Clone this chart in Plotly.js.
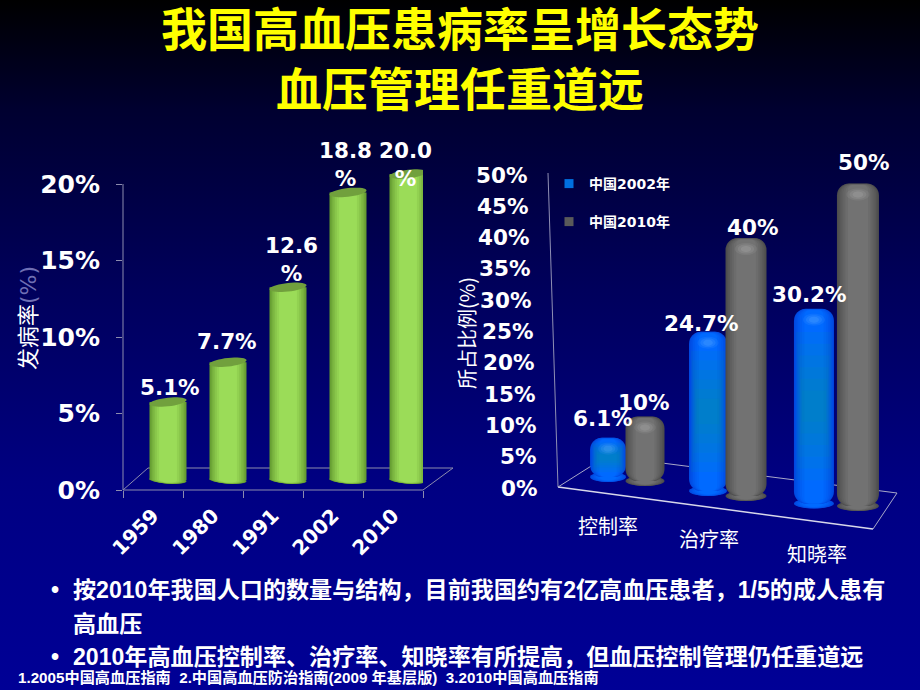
<!DOCTYPE html>
<html><head><meta charset="utf-8">
<script src="https://cdn.plot.ly/plotly-3.0.1.min.js"></script>
<style>
html,body{margin:0;padding:0;width:920px;height:690px;overflow:hidden;background:linear-gradient(180deg,#000000 0%,#000030 16%,#00005c 42%,#000082 70%,#000096 100%);}
#chart{width:920px;height:690px;}
</style></head><body><div id="chart"></div>
<script>
// ---------- data ----------
const years = ['1959','1980','1991','2002','2010'];
const incidence = [5.1,7.7,12.6,18.8,20.0];
const incidenceLabels = ['5.1%','7.7%','12.6<br>%','18.8<br>%','20.0<br>%'];
const incidenceTicks = [0,5,10,15,20];

const rateNames = ['控制率','治疗率','知晓率'];
const china2002 = [6.1,24.7,30.2];
const china2010 = [10,40,50];
const china2002Labels = ['6.1%','24.7%','30.2%'];
const china2010Labels = ['10%','40%','50%'];
const shareTicks = [0,5,10,15,20,25,30,35,40,45,50];

const titleLines = ['我国高血压患病率呈增长态势','血压管理任重道远'];
const bulletLines = [
 '•','按2010年我国人口的数量与结构，目前我国约有2亿高血压患者，1/5的成人患有',
 '高血压',
 '•','2010年高血压控制率、治疗率、知晓率有所提高，但血压控制管理仍任重道远'];
const footnote = '1.2005中国高血压指南  2.中国高血压防治指南(2009 年基层版)  3.2010中国高血压指南';

// ---------- geometry / style helpers ----------
const W=920,H=690;
const CJK='"Noto Sans CJK SC"', LAT='"DejaVu Sans","Noto Sans CJK SC"', ARI='"Liberation Sans","Noto Sans CJK SC"';
const px=(x,y)=>[x/W,1-y/H];
const hex=c=>[1,3,5].map(i=>parseInt(c.substr(i,2),16));
const mix=(a,b,t)=>{const A=hex(a),B=hex(b);return 'rgb('+A.map((v,i)=>Math.round(v+(B[i]-v)*t)).join(',')+')';};

const LS=15.3;            // left chart: px per %
const RS=6.45;            // right chart: px per %
const RU=105;             // right chart: px per category
const leftBase=0.65, leftShift=0.25, leftWidth=0.617;
const xBlue=[-.171,-.219,-.21], xGray=[.181,.143,.209];
const wBlue=[36,38,40], wGray=[39,41,42];
const footBlue=[477,491,503.5], footGray=[481,496,506];

const shapes=[], annotations=[], traces=[];
function seg(x0,y0,x1,y1,color,width){const a=px(x0,y0),b=px(x1,y1);
 shapes.push({type:'line',xref:'paper',yref:'paper',x0:a[0],y0:a[1],x1:b[0],y1:b[1],layer:'below',line:{color:color,width:width||1}});}
function ellipse(xr,yr,cx,cy,rxU,ryU,tiltPx,fill,layer){ // cx,cy in data units
 let d='';for(let i=0;i<=36;i++){const t=i/36*2*Math.PI;
  const X=cx+rxU*Math.cos(t), Y=cy+ryU*Math.sin(t)+tiltPx*Math.cos(t);
  d+=(i?'L':'M')+X.toFixed(4)+','+Y.toFixed(4);}
 shapes.push({type:'path',xref:xr,yref:yr,path:d+'Z',fillcolor:fill,line:{width:0},layer:layer});}
function text(t,x,y,size,opts){const p=px(x,y);
 annotations.push(Object.assign({text:t,xref:'paper',yref:'paper',x:p[0],y:p[1],showarrow:false,xanchor:'center',yanchor:'middle',
  font:{family:CJK,size:size,color:'#ffffff'}},opts||{}));}
const fr=[1,.94,.87,.79,.70,.60,.48];

// frame first so that it lies under the feet of the cylinders
seg(123,184,123,490,'#8c8cae');
seg(123,490,423,490,'#8c8cae');
seg(423,490,453,468,'#8c8cae');
seg(453,468,148,468,'#8c8cae');
seg(148,468,123,490,'#8c8cae');
seg(548,173,558,487,'#8f8fb4');
seg(558,487,873,529,'#d8d8ea',1.5);
seg(873,529,897,493,'#a8a8c8');
seg(897,493,607,456,'#a8a8c8');
seg(607,456,558,487,'#a8a8c8');

// ---------- left chart ----------
const lx=years.map((_,i)=>i+leftShift);
const greens=fr.map((f,k)=>mix('#649a30','#9bdc58',k/(fr.length-1)));
fr.forEach((f,k)=>{
 traces.push({type:'bar',xaxis:'x',yaxis:'y',x:lx,y:incidence,base:incidence.map(()=>leftBase),width:lx.map(()=>leftWidth*f),
  marker:{color:greens[k],line:{width:0}},showlegend:false,hoverinfo:'skip',cliponaxis:false});
});
incidence.forEach((v,i)=>{
 fr.forEach((f,k)=>ellipse('x','y',lx[i],leftBase,leftWidth/2*f,3.6/LS*Math.sqrt(f),-1.2/LS*f,greens[k],'below'));
 ellipse('x','y',lx[i],leftBase+v,leftWidth/2,4.3/LS,2/LS,'#71a03d','above');
});
const lNudge=[2,-1,3,-3,-3];
const lY=[387,341,259,165,165];
incidence.forEach((v,i)=>{
 annotations.push({text:incidenceLabels[i],xref:'x',yref:'y',x:lx[i],y:(490-lY[i])/LS,xshift:lNudge[i],showarrow:false,
  xanchor:'center',yanchor:'middle',align:'center',font:{family:LAT,size:21.5,color:'#ffffff',weight:700}});
});

// ---------- right chart ----------
function cylinders(xs,vals,widths,feet,edge,center,hi){
 const base=feet.map(f=>(488-f)/RS);
 const cols=fr.map((f,k)=>mix(edge,center,k/(fr.length-1)));
 fr.forEach((f,k)=>{
  traces.push({type:'bar',xaxis:'x2',yaxis:'y2',x:xs,
   y:vals.map(v=>v-(1-f)*3/RS),base:base,width:widths.map(w=>w/RU*f),
   marker:{color:cols[k],line:{width:0},cornerradius:Math.max(2,12*f)},
   showlegend:false,hoverinfo:'skip',cliponaxis:false});
 });
 vals.forEach((v,i)=>{
  const r=widths[i]/2/RU;
  fr.forEach((f,k)=>ellipse('x2','y2',xs[i],base[i],r*f,5/RS*Math.sqrt(f),0,cols[k],'below'));
  const cy=base[i]+v-11/RS;
  [[.55,6,.10],[.4,4.5,.14],[.25,3,.16]].forEach(h=>ellipse('x2','y2',xs[i],cy,r*h[0],h[1]/RS,0,'rgba('+hi+','+h[2]+')','above'));
 });
 return base;
}
const bx=china2002.map((_,i)=>i+xBlue[i]);
const gx=china2010.map((_,i)=>i+xGray[i]);
const bBase=cylinders(bx,china2002,wBlue,footBlue,'#0048e0','#006aff','120,190,255');
// teal mid band of the blue cylinders, built up in soft steps
[[.12,.88,.9],[.18,.82,.84],[.24,.76,.78],[.30,.70,.72],[.36,.64,.66],[.42,.58,.6]].forEach(b=>{
 traces.push({type:'bar',xaxis:'x2',yaxis:'y2',x:bx,base:china2002.map((v,i)=>bBase[i]+v*b[0]),y:china2002.map(v=>v*(b[1]-b[0])),
  width:wBlue.map(w=>w/RU*b[2]),marker:{color:'rgba(0,170,110,.07)',line:{width:0}},showlegend:false,hoverinfo:'skip',cliponaxis:false});
});
const gBase=cylinders(gx,china2010,wGray,footGray,'#4c4c4c','#727272','200,200,200');

const blY=[418,323,294], blX=[603,701,809], glY=[402,228,163], glX=[643,752,863];
china2002.forEach((v,i)=>{
 annotations.push({text:china2002Labels[i],xref:'x2',yref:'y2',x:bx[i],y:(488-blY[i])/RS,xshift:blX[i]-(626+RU*bx[i]),showarrow:false,
  font:{family:LAT,size:21.5,color:'#fff',weight:700},xanchor:'center',yanchor:'middle'});
 annotations.push({text:china2010Labels[i],xref:'x2',yref:'y2',x:gx[i],y:(488-glY[i])/RS,xshift:glX[i]-(626+RU*gx[i]),showarrow:false,
  font:{family:LAT,size:21.5,color:'#fff',weight:700},xanchor:'center',yanchor:'middle'});
});
// slanted value labels read through a hidden linear axis
traces.push({type:'scatter',xaxis:'x2',yaxis:'y3',x:[null],y:[null],showlegend:false,hoverinfo:'skip'});
shareTicks.forEach(t=>{
 annotations.push({text:t+'%',xref:'paper',yref:'y3',x:(540-(t/50)*11)/W,y:t,xanchor:'right',yanchor:'middle',showarrow:false,
  font:{family:LAT,size:21.5,color:'#fff',weight:700}});
});
// staggered category labels
const catPx=[[608,525],[709,538],[817,553]];
rateNames.forEach((n,i)=>text(n,catPx[i][0],catPx[i][1],20));

// legend entries
traces.push({type:'scatter',mode:'markers',xaxis:'x2',yaxis:'y2',x:[null],y:[null],name:'中国2002年',legend:'legend',
 marker:{symbol:'square',size:9,color:'#0070e0'},hoverinfo:'skip'});
traces.push({type:'scatter',mode:'markers',xaxis:'x2',yaxis:'y2',x:[null],y:[null],name:'中国2010年',legend:'legend2',
 marker:{symbol:'square',size:9,color:'#5a5a5a'},hoverinfo:'skip'});

// ---------- text ----------
text('发病率<span style="color:#6f6fb4">(%)</span>',28,318,22,{textangle:-90,font:{family:LAT,size:22,color:'#ffffff'}});
text('所占比例(%)',466,333,20,{textangle:-90});
const B={family:ARI,size:23.1,color:'#ffffff',weight:700};
const bx0=[49,71,71,49,71], by=[590,590,624,657,657];
bulletLines.forEach((t,i)=>text(t,bx0[i],by[i],23,{xanchor:'left',font:B}));
text(footnote,16,677,15.2,{xanchor:'left',font:{family:ARI,size:15.2,color:'#ffffff',weight:700}});

const p=v=>(690-v)/690;
const legendFont={family:LAT,size:14,color:'#ffffff',weight:700};
const layout={
 width:W,height:H,margin:{l:0,r:0,t:0,b:0},paper_bgcolor:'rgba(0,0,0,0)',plot_bgcolor:'rgba(0,0,0,0)',
 barmode:'overlay',hovermode:false,
 title:{text:titleLines.join('<br>'),x:0.5,xanchor:'center',y:0.933,yanchor:'top',font:{family:CJK,size:46,color:'#ffff00',weight:700}},
 xaxis:{domain:[123/W,423/W],range:[-.5,4.5],tickmode:'array',tickvals:years.map((_,i)=>i),ticktext:years,tickangle:-45,ticklen:0,
  tickfont:{family:LAT,size:20,color:'#ffffff',weight:700},showgrid:false,zeroline:false,showline:false,anchor:'y',ticklabelstandoff:9,
  minor:{tickvals:[-.5,.5,1.5,2.5,3.5,4.5],ticks:'outside',ticklen:7,tickcolor:'#8c8cae',tickwidth:1,showgrid:false}},
 yaxis:{domain:[p(490),p(150)],range:[0,340/LS],tickmode:'array',tickvals:incidenceTicks,ticktext:incidenceTicks.map(t=>t+'%'),
  ticks:'outside',ticklen:6,tickcolor:'#8c8cae',tickfont:{family:LAT,size:25,color:'#ffffff',weight:700},showgrid:false,zeroline:false,showline:false,anchor:'x',ticklabelstandoff:11},
 xaxis2:{domain:[545/W,900/W],range:[(545-626)/RU,(900-626)/RU],visible:false,anchor:'y2',fixedrange:true},
 yaxis2:{domain:[p(525),p(130)],range:[(488-525)/RS,(488-130)/RS],visible:false,anchor:'x2',fixedrange:true},
 yaxis3:{domain:[p(488),p(175)],range:[0,50],visible:false,anchor:'x2',fixedrange:true},
 legend:{x:549/W,y:p(184),xanchor:'left',yanchor:'middle',bgcolor:'rgba(0,0,0,0)',font:legendFont,borderwidth:0},
 legend2:{x:549/W,y:p(222),xanchor:'left',yanchor:'middle',bgcolor:'rgba(0,0,0,0)',font:legendFont,borderwidth:0},
 shapes:shapes,annotations:annotations
};
Plotly.newPlot('chart',traces,layout,{displayModeBar:false,staticPlot:true});
</script></body></html>
